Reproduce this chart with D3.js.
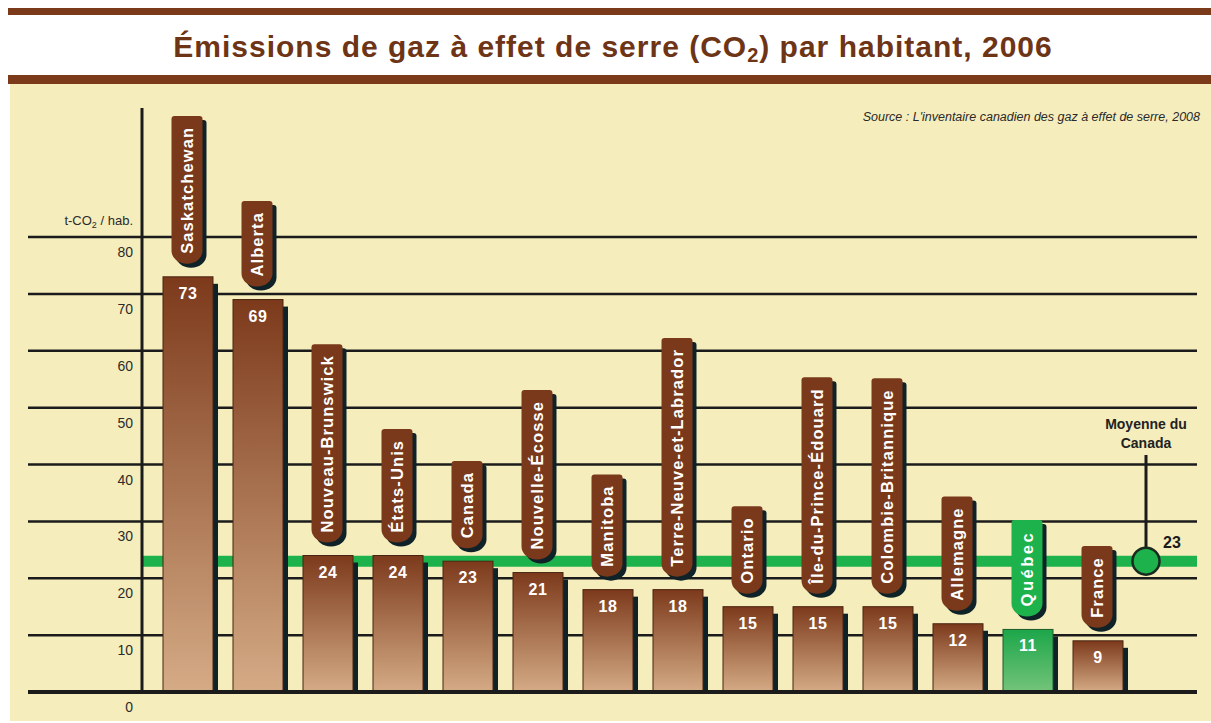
<!DOCTYPE html>
<html>
<head>
<meta charset="utf-8">
<script src="https://cdn.jsdelivr.net/npm/d3@7"></script>
<style>
  body { margin: 0; background: #fff; }
  svg { display: block; font-family: "Liberation Sans", Arial, sans-serif; }
</style>
</head>
<body>
<svg id="svg" width="1211" height="723"></svg>
<script>
// data
const regions = ["Saskatchewan", "Alberta", "Nouveau-Brunswick", "États-Unis", "Canada",
    "Nouvelle-Écosse", "Manitoba", "Terre-Neuve-et-Labrador", "Ontario",
    "Île-du-Prince-Édouard", "Colombie-Britannique", "Allemagne", "Québec", "France"];
const emissions = [73, 69, 24, 24, 23, 21, 18, 18, 15, 15, 15, 12, 11, 9];
const yTicks = [0, 10, 20, 30, 40, 50, 60, 70, 80];
const canadaAverage = 23;
const highlight = "Québec";

// visual constants
const dims = { width: 1211, height: 723 };
const colors = {
    band: "#7b3a1a",
    cream: "#f6edbd",
    grid: "#1b1b1b",
    tag: "#7a391b",
    green: "#1db24b",
    shadow: "#0f2227"
};

let mySvg = d3.select('#svg');

let xScale = d3.scaleBand()
    .domain(regions)
    .range([143, 1143])
    .padding(2 / 7);
let yScale = d3.scaleLinear()
    .domain([0, 80])
    .range([692, 237]);

// gradients
let defs = mySvg.append("defs");
function gradient(id, top, bottom) {
    let g = defs.append("linearGradient").attr("id", id)
        .attr("x1", 0).attr("y1", 0).attr("x2", 0).attr("y2", 1);
    g.append("stop").attr("offset", "0%").attr("stop-color", top);
    g.append("stop").attr("offset", "100%").attr("stop-color", bottom);
}
gradient("brownGrad", "#7c3a1b", "#d5ab86");
gradient("greenGrad", "#1ca64a", "#74c47a");

// header
mySvg.append("rect").attr("x", 8).attr("y", 8).attr("width", dims.width - 8).attr("height", 7).attr("fill", colors.band);
mySvg.append("rect").attr("x", 8).attr("y", 75).attr("width", dims.width - 8).attr("height", 9).attr("fill", colors.band);
mySvg.append("rect").attr("x", 10).attr("y", 84).attr("width", dims.width - 10).attr("height", 637).attr("fill", colors.cream);

let title = mySvg.append("text")
    .attr("x", 613).attr("y", 57)
    .attr("text-anchor", "middle")
    .attr("font-size", 30).attr("font-weight", "bold")
    .attr("letter-spacing", 1)
    .attr("fill", "#6e3416");
title.append("tspan").text("Émissions de gaz à effet de serre (CO");
title.append("tspan").attr("font-size", 20).attr("dy", 5).text("2");
title.append("tspan").attr("dy", -5).text(") par habitant, 2006");

mySvg.append("text")
    .attr("x", 1200).attr("y", 121)
    .attr("text-anchor", "end")
    .attr("font-size", 12.5).attr("font-style", "italic")
    .attr("fill", "#2a2a2a")
    .text("Source : L'inventaire canadien des gaz à effet de serre, 2008");

// gridlines + tick labels
mySvg.selectAll(".grid")
    .data(yTicks.filter(d => d > 0))
    .enter().append("line")
    .attr("x1", 28).attr("x2", 1197)
    .attr("y1", d => yScale(d)).attr("y2", d => yScale(d))
    .attr("stroke", colors.grid).attr("stroke-width", 2.5);

mySvg.selectAll(".tick-label")
    .data(yTicks)
    .enter().append("text")
    .attr("x", 133)
    .attr("y", d => yScale(d) + 20)
    .attr("text-anchor", "end")
    .attr("font-size", 14)
    .attr("fill", "#2b2b2b")
    .text(d => d);

let unit = mySvg.append("text")
    .attr("x", 133).attr("y", 225)
    .attr("text-anchor", "end")
    .attr("font-size", 13).attr("fill", "#2b2b2b");
unit.append("tspan").text("t-CO");
unit.append("tspan").attr("font-size", 9).attr("dy", 3).text("2");
unit.append("tspan").attr("dy", -3).text(" / hab.");

// canada average line
mySvg.append("line")
    .attr("x1", 143).attr("x2", 1197)
    .attr("y1", yScale(canadaAverage)).attr("y2", yScale(canadaAverage))
    .attr("stroke", colors.green).attr("stroke-width", 11);

// vertical axis
mySvg.append("line")
    .attr("x1", 142).attr("x2", 142)
    .attr("y1", 108).attr("y2", yScale(0))
    .attr("stroke", colors.grid).attr("stroke-width", 3);

const bw = xScale.bandwidth();

// bar shadows
mySvg.selectAll(".bar-shadow")
    .data(regions)
    .enter().append("rect")
    .attr("x", d => xScale(d) + bw)
    .attr("y", (d, i) => yScale(emissions[i]) + 7)
    .attr("width", 5)
    .attr("height", (d, i) => yScale(0) - yScale(emissions[i]) - 7)
    .attr("fill", colors.shadow);

// bars
mySvg.selectAll(".bar")
    .data(regions)
    .enter().append("rect")
    .attr("x", d => xScale(d))
    .attr("y", (d, i) => yScale(emissions[i]))
    .attr("width", bw)
    .attr("height", (d, i) => yScale(0) - yScale(emissions[i]))
    .attr("fill", d => d === highlight ? "url(#greenGrad)" : "url(#brownGrad)")
    .attr("stroke", d => d === highlight ? "#1d5a2c" : "#4a2412")
    .attr("stroke-width", 1);

// value labels
mySvg.selectAll(".value")
    .data(regions)
    .enter().append("text")
    .attr("x", d => xScale(d) + bw / 2)
    .attr("y", (d, i) => yScale(emissions[i]) + 22)
    .attr("text-anchor", "middle")
    .attr("font-size", 16).attr("font-weight", "bold")
    .attr("letter-spacing", 0.5)
    .attr("fill", "#fff")
    .text((d, i) => emissions[i]);

// name tags
function tagPath(h) {
    let hw = 15.5, ry = 13;
    return `M${-hw},${-h + 3} Q${-hw},${-h} ${-hw + 3},${-h} L${hw - 3},${-h} Q${hw},${-h} ${hw},${-h + 3}` +
        ` L${hw},${-ry} A${hw},${ry} 0 0 1 ${-hw},${-ry} Z`;
}

let tags = mySvg.selectAll(".tag")
    .data(regions)
    .enter().append("g")
    .attr("transform", (d, i) => `translate(${xScale(d) + bw / 2 - 1},${yScale(emissions[i]) - 13})`);

tags.each(function(d) {
    let g = d3.select(this);
    let shadow = g.append("path").attr("transform", "translate(4,4)").attr("fill", colors.shadow);
    let body = g.append("path").attr("fill", d === highlight ? colors.green : colors.tag);
    let label = g.append("text")
        .attr("transform", "translate(0,-10) rotate(-90)")
        .attr("x", 0).attr("y", 0)
        .attr("dy", "0.36em")
        .attr("font-size", 16.5).attr("font-weight", "bold")
        .attr("letter-spacing", d === highlight ? 2.5 : 1.1)
        .attr("fill", "#fff")
        .text(d);
    let len = label.node().getComputedTextLength();
    let h = len + 21;
    shadow.attr("d", tagPath(h));
    body.attr("d", tagPath(h));
});

// baseline
mySvg.append("line")
    .attr("x1", 28).attr("x2", 1197)
    .attr("y1", yScale(0)).attr("y2", yScale(0))
    .attr("stroke", colors.grid).attr("stroke-width", 4);

// average marker
const avgX = 1146;
mySvg.append("line")
    .attr("x1", avgX).attr("x2", avgX)
    .attr("y1", 455).attr("y2", yScale(canadaAverage))
    .attr("stroke", colors.grid).attr("stroke-width", 3);
mySvg.append("circle")
    .attr("cx", avgX).attr("cy", yScale(canadaAverage))
    .attr("r", 13.5)
    .attr("fill", colors.green)
    .attr("stroke", "#1a2a1f").attr("stroke-width", 2.5);
mySvg.append("text")
    .attr("x", 1163).attr("y", 548)
    .attr("font-size", 16).attr("font-weight", "bold")
    .attr("fill", "#1b1b1b")
    .text(canadaAverage);
mySvg.append("text")
    .attr("x", avgX).attr("y", 429)
    .attr("text-anchor", "middle")
    .attr("font-size", 14).attr("font-weight", "bold")
    .attr("fill", "#222")
    .selectAll("tspan")
    .data(["Moyenne du", "Canada"])
    .enter().append("tspan")
    .attr("x", avgX)
    .attr("dy", (d, i) => i === 0 ? 0 : 19)
    .text(d => d);
</script>
</body>
</html>
